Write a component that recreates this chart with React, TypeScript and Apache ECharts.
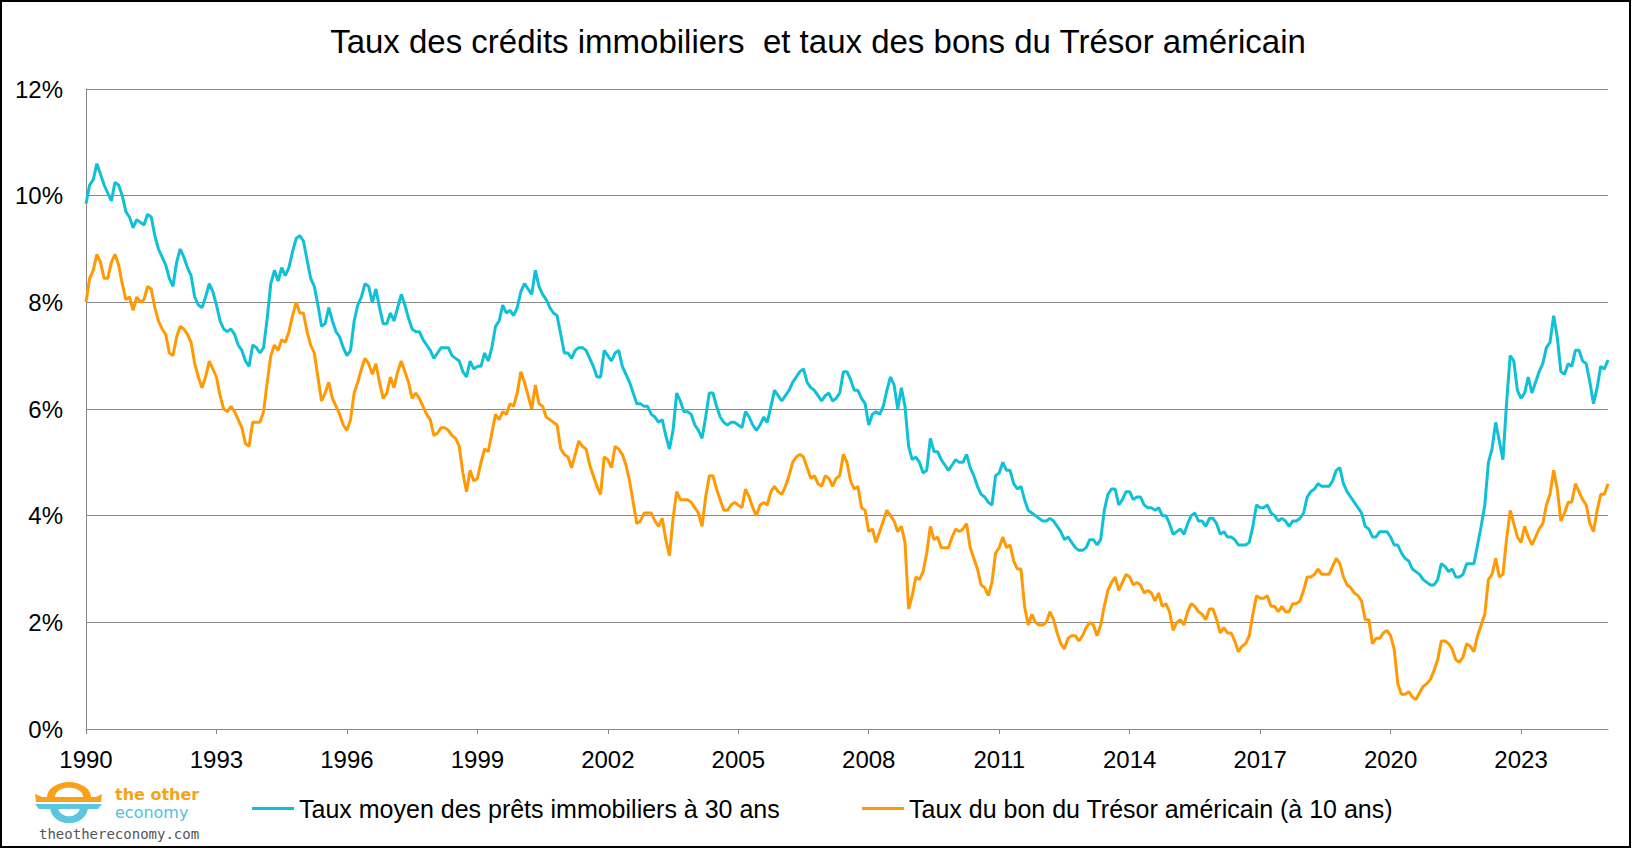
import React, { useEffect, useRef } from "react";
import * as echarts from "echarts";

const startYear = 1990;
const xTickYears = [1990, 1993, 1996, 1999, 2002, 2005, 2008, 2011, 2014, 2017, 2020, 2023];
const yTickValues = [0, 2, 4, 6, 8, 10, 12];

const mortgageName = "Taux moyen des prêts immobiliers à 30 ans";
const treasuryName = "Taux du bon du Trésor américain (à 10 ans)";
const chartTitle = "Taux des crédits immobiliers\u00a0 et taux des bons du Trésor américain";

// Monthly values, Jan 1990 -> Jan 2025 (%)
const mortgageRates = [
  9.85, 10.2, 10.3, 10.6, 10.4, 10.2, 10.05, 9.9, 10.25, 10.2, 10.0, 9.7,
  9.6, 9.4, 9.55, 9.5, 9.45, 9.65, 9.6, 9.25, 9.0, 8.85, 8.7, 8.45,
  8.3, 8.75, 9.0, 8.85, 8.65, 8.5, 8.1, 7.95, 7.9, 8.1, 8.35, 8.2,
  7.95, 7.65, 7.5, 7.45, 7.5, 7.4, 7.2, 7.1, 6.9, 6.8, 7.2, 7.15,
  7.05, 7.15, 7.7, 8.35, 8.6, 8.4, 8.65, 8.5, 8.65, 8.95, 9.2, 9.25,
  9.15, 8.8, 8.45, 8.3, 7.95, 7.55, 7.6, 7.9, 7.65, 7.45, 7.35, 7.15,
  7.0, 7.1, 7.65, 7.95, 8.1, 8.35, 8.3, 8.0, 8.25, 7.9, 7.6, 7.6,
  7.8, 7.65, 7.9, 8.15, 7.95, 7.7, 7.5, 7.45, 7.45, 7.3, 7.2, 7.1,
  6.95, 7.05, 7.15, 7.15, 7.15, 7.0, 6.95, 6.9, 6.7, 6.6, 6.9, 6.75,
  6.8, 6.8, 7.05, 6.9, 7.15, 7.55, 7.65, 7.95, 7.8, 7.85, 7.75, 7.9,
  8.2, 8.35, 8.25, 8.15, 8.6, 8.3, 8.15, 8.05, 7.9, 7.8, 7.75, 7.4,
  7.05, 7.05, 6.95, 7.1, 7.15, 7.15, 7.1, 6.95, 6.8, 6.6, 6.6, 7.1,
  7.0, 6.9, 7.05, 7.1, 6.8, 6.65, 6.5, 6.3, 6.1, 6.1, 6.05, 6.05,
  5.9, 5.85, 5.75, 5.8, 5.5, 5.25, 5.6, 6.3, 6.15, 5.95, 5.95, 5.9,
  5.7, 5.6, 5.45, 5.85, 6.3, 6.3, 6.05, 5.85, 5.75, 5.7, 5.75, 5.75,
  5.7, 5.65, 5.95, 5.85, 5.7, 5.6, 5.7, 5.85, 5.75, 6.05, 6.35, 6.25,
  6.15, 6.25, 6.35, 6.5, 6.6, 6.7, 6.75, 6.5, 6.4, 6.35, 6.25, 6.15,
  6.25, 6.3, 6.15, 6.2, 6.3, 6.7, 6.7, 6.55, 6.35, 6.35, 6.2, 6.1,
  5.7, 5.9, 5.95, 5.9, 6.05, 6.35, 6.6, 6.45, 6.0, 6.4, 6.05, 5.3,
  5.05, 5.1, 5.0, 4.8, 4.85, 5.45, 5.2, 5.2, 5.05, 4.95, 4.85, 4.95,
  5.05, 5.0, 5.0, 5.15, 4.9, 4.75, 4.55, 4.4, 4.35, 4.25, 4.2, 4.75,
  4.8, 5.0, 4.85, 4.85, 4.6, 4.5, 4.55, 4.3, 4.1, 4.05, 4.0, 3.95,
  3.9, 3.9, 3.95, 3.9, 3.8, 3.7, 3.55, 3.6, 3.5, 3.4, 3.35, 3.35,
  3.4, 3.55, 3.55, 3.45, 3.55, 4.1, 4.4, 4.5, 4.5, 4.2, 4.3, 4.45,
  4.45, 4.3, 4.35, 4.35, 4.2, 4.15, 4.15, 4.1, 4.15, 4.0, 4.0, 3.85,
  3.65, 3.7, 3.75, 3.65, 3.85, 4.0, 4.05, 3.9, 3.9, 3.8, 3.95, 3.95,
  3.85, 3.65, 3.7, 3.6, 3.6, 3.55, 3.45, 3.45, 3.45, 3.5, 3.8, 4.2,
  4.15, 4.15, 4.2, 4.05, 4.0, 3.9, 3.95, 3.9, 3.8, 3.9, 3.9, 3.95,
  4.05, 4.35, 4.45, 4.5, 4.6, 4.55, 4.55, 4.55, 4.65, 4.85, 4.9, 4.6,
  4.45, 4.35, 4.25, 4.15, 4.05, 3.8, 3.75, 3.6, 3.6, 3.7, 3.7, 3.7,
  3.6, 3.45, 3.45, 3.3, 3.2, 3.15, 3.0, 2.95, 2.9, 2.8, 2.75, 2.7,
  2.7, 2.8, 3.1, 3.05, 2.95, 3.0, 2.85, 2.85, 2.9, 3.1, 3.1, 3.1,
  3.45, 3.8, 4.2, 5.0, 5.25, 5.75, 5.4, 5.05, 6.1, 7.0, 6.9, 6.35,
  6.2, 6.3, 6.6, 6.3, 6.5, 6.7, 6.85, 7.15, 7.25, 7.75, 7.35, 6.7,
  6.65, 6.85, 6.8, 7.1, 7.1, 6.9, 6.85, 6.5, 6.1, 6.4, 6.8, 6.75,
  6.92,
];

const treasuryRates = [
  8.0, 8.45, 8.6, 8.9, 8.75, 8.45, 8.45, 8.75, 8.9, 8.7, 8.35, 8.05,
  8.1, 7.85, 8.1, 8.0, 8.05, 8.3, 8.25, 7.9, 7.65, 7.5, 7.4, 7.05,
  7.0, 7.35, 7.55, 7.5, 7.4, 7.25, 6.85, 6.6, 6.4, 6.6, 6.9, 6.75,
  6.6, 6.25, 6.0, 5.95, 6.05, 5.95, 5.8, 5.65, 5.35, 5.3, 5.75, 5.75,
  5.75, 5.95, 6.5, 7.0, 7.2, 7.1, 7.3, 7.25, 7.45, 7.75, 8.0, 7.8,
  7.8, 7.45, 7.2, 7.05, 6.6, 6.15, 6.3, 6.5, 6.2, 6.05, 5.9, 5.7,
  5.6, 5.8, 6.3, 6.5, 6.75, 6.95, 6.85, 6.65, 6.85, 6.5, 6.2, 6.3,
  6.6, 6.4, 6.7, 6.9, 6.7, 6.5, 6.2, 6.3, 6.2, 6.05, 5.9, 5.8,
  5.5, 5.55, 5.65, 5.65, 5.6, 5.5, 5.45, 5.3, 4.8, 4.45, 4.85, 4.65,
  4.7, 5.0, 5.25, 5.2, 5.55, 5.9, 5.8, 5.95, 5.9, 6.1, 6.05, 6.3,
  6.7, 6.5, 6.25, 6.0, 6.45, 6.1, 6.05, 5.85, 5.8, 5.75, 5.7, 5.25,
  5.15, 5.1, 4.9, 5.15, 5.4, 5.3, 5.25, 4.95, 4.75, 4.55, 4.4, 5.1,
  5.05, 4.9, 5.3, 5.25, 5.15, 4.95, 4.65, 4.25, 3.85, 3.9, 4.05, 4.05,
  4.05, 3.9, 3.8, 3.95, 3.55, 3.25, 3.95, 4.45, 4.3, 4.3, 4.3, 4.25,
  4.15, 4.05, 3.8, 4.35, 4.75, 4.75, 4.5, 4.3, 4.1, 4.1, 4.2, 4.25,
  4.2, 4.15, 4.5, 4.35, 4.15, 4.0, 4.2, 4.25, 4.2, 4.45, 4.55, 4.45,
  4.4, 4.55, 4.75, 5.0, 5.1, 5.15, 5.1, 4.9, 4.7, 4.75, 4.6, 4.55,
  4.75, 4.7, 4.55, 4.7, 4.75, 5.15, 5.0, 4.65, 4.5, 4.55, 4.15, 4.1,
  3.7, 3.75, 3.5, 3.7, 3.9, 4.1, 4.0, 3.9, 3.7, 3.8, 3.5, 2.25,
  2.5, 2.85, 2.8, 2.95, 3.3, 3.8, 3.55, 3.6, 3.4, 3.4, 3.4, 3.6,
  3.75, 3.7, 3.75, 3.85, 3.4, 3.2, 3.0, 2.7, 2.65, 2.5, 2.75, 3.3,
  3.4, 3.6, 3.4, 3.45, 3.15, 3.0, 3.0, 2.3, 1.95, 2.15, 2.0, 1.95,
  1.95, 2.0, 2.2, 2.05, 1.8, 1.6, 1.5, 1.7, 1.75, 1.75, 1.65, 1.75,
  1.9, 2.0, 1.95, 1.75, 1.95, 2.3, 2.6, 2.75, 2.85, 2.6, 2.75, 2.9,
  2.85, 2.7, 2.75, 2.7, 2.55, 2.6, 2.55, 2.4, 2.55, 2.3, 2.35, 2.2,
  1.85, 2.0, 2.05, 1.95, 2.2, 2.35, 2.3, 2.2, 2.15, 2.05, 2.25, 2.25,
  2.05, 1.8, 1.9, 1.8, 1.8, 1.65, 1.45, 1.55, 1.6, 1.75, 2.15, 2.5,
  2.45, 2.45, 2.5, 2.3, 2.3, 2.2, 2.3, 2.2, 2.2, 2.35, 2.35, 2.4,
  2.6, 2.85, 2.85, 2.9, 3.0, 2.9, 2.9, 2.9, 3.05, 3.2, 3.1, 2.85,
  2.7, 2.65, 2.55, 2.5, 2.4, 2.05, 2.05, 1.6, 1.7, 1.7, 1.8, 1.85,
  1.75, 1.5, 0.85, 0.65, 0.65, 0.7, 0.6, 0.55, 0.68, 0.8, 0.85, 0.93,
  1.1, 1.3, 1.65, 1.65, 1.6, 1.5, 1.3, 1.25, 1.35, 1.6, 1.55, 1.45,
  1.75, 1.95, 2.15, 2.8, 2.9, 3.2, 2.85, 2.9, 3.55, 4.1, 3.85, 3.6,
  3.5, 3.8, 3.6, 3.45, 3.6, 3.75, 3.85, 4.2, 4.4, 4.85, 4.5, 3.9,
  4.05, 4.25, 4.25, 4.6, 4.45, 4.3, 4.2, 3.85, 3.7, 4.1, 4.4, 4.4,
  4.6,
];

const FONT = "'Liberation Sans', Arial, Helvetica, sans-serif";
const LOGO_FONT = "'DejaVu Sans', 'Noto Sans', sans-serif";
const CYAN = "#0fc0d6";
const ORANGE = "#ff9a05";
const GRID = "#888888";

export default function App() {
  const ref = useRef<HTMLDivElement>(null);

  useEffect(() => {
    if (!ref.current) return;
    const chart = echarts.init(ref.current, undefined, { renderer: "svg" });
    const toPairs = (arr: number[]) => arr.map((v, i) => [startYear + i / 12, v]);

    chart.setOption({
      animation: false,
      backgroundColor: "#ffffff",
      grid: { left: 86, right: 28, top: 89, bottom: 120, containLabel: false },
      xAxis: {
        type: "value",
        min: 1990,
        max: 2025,
        interval: 3,
        axisLine: { show: true, lineStyle: { color: GRID, width: 1 } },
        axisTick: { show: true, length: 5, lineStyle: { color: GRID }, customValues: xTickYears },
        axisLabel: {
          customValues: xTickYears,
          fontSize: 24,
          fontFamily: FONT,
          color: "#000",
          margin: 18,
          formatter: (v: number) => String(Math.round(v)),
        },
        splitLine: { show: false },
      },
      yAxis: {
        type: "value",
        min: 0,
        max: 12,
        interval: 2,
        axisLine: { show: true, lineStyle: { color: GRID, width: 1 } },
        axisTick: { show: false },
        axisLabel: {
          customValues: yTickValues,
          fontSize: 24,
          fontFamily: FONT,
          color: "#000",
          margin: 23,
          formatter: "{value}%",
        },
        splitLine: { show: true, lineStyle: { color: GRID, width: 1 } },
      },
      legend: [
        {
          data: [mortgageName],
          left: 252,
          top: 796,
          padding: 0,
          icon: "rect",
          itemWidth: 42,
          itemHeight: 3,
          textStyle: { fontSize: 25, fontFamily: FONT, color: "#000" },
        },
        {
          data: [treasuryName],
          left: 862,
          top: 796,
          padding: 0,
          icon: "rect",
          itemWidth: 42,
          itemHeight: 3,
          textStyle: { fontSize: 25, fontFamily: FONT, color: "#000" },
        },
      ],
      series: [
        {
          name: mortgageName,
          type: "line",
          data: toPairs(mortgageRates),
          showSymbol: false,
          symbol: "none",
          color: CYAN,
          lineStyle: { color: CYAN, width: 3 },
        },
        {
          name: treasuryName,
          type: "line",
          data: toPairs(treasuryRates),
          showSymbol: false,
          symbol: "none",
          color: ORANGE,
          lineStyle: { color: ORANGE, width: 3 },
        },
      ],
      graphic: [
        {
          type: "rect",
          shape: { x: 1, y: 1, width: 1629, height: 846 },
          style: { fill: "none", stroke: "#000", lineWidth: 2 },
          silent: true,
        },
        {
          type: "text",
          x: 818,
          y: 41,
          style: {
            text: chartTitle,
            fontSize: 33,
            fontFamily: FONT,
            fill: "#000",
            align: "center",
            verticalAlign: "middle",
          },
        },
        // logo
        {
          type: "sector",
          x: 69,
          y: 797,
          scaleY: 0.68,
          shape: { cx: 0, cy: 0, r: 22, r0: 14, startAngle: Math.PI, endAngle: 2 * Math.PI },
          style: { fill: "#f9a11b" },
        },
        {
          type: "polygon",
          shape: { points: [[35, 794], [42, 797], [96, 797], [102, 794], [101, 802], [36, 802]] },
          style: { fill: "#f9a11b" },
        },
        {
          type: "polygon",
          shape: { points: [[35, 804], [102, 804], [98, 809], [39, 809]] },
          style: { fill: "#5bc6dd" },
        },
        {
          type: "sector",
          x: 69,
          y: 807,
          scaleY: 0.85,
          shape: { cx: 0, cy: 0, r: 19, r0: 11, startAngle: 0, endAngle: Math.PI },
          style: { fill: "#5bc6dd" },
        },
        {
          type: "text",
          x: 115,
          y: 794,
          style: { text: "the other", fontSize: 16, lineHeight: 16, fontWeight: "bold", fontFamily: LOGO_FONT, fill: "#f7a21b", verticalAlign: "middle" },
        },
        {
          type: "text",
          x: 115,
          y: 812,
          style: { text: "economy", fontSize: 16, lineHeight: 16, fontFamily: LOGO_FONT, fill: "#4fc2dc", verticalAlign: "middle" },
        },
        {
          type: "text",
          x: 39,
          y: 834,
          style: { text: "theothereconomy.com", fontSize: 14, lineHeight: 12, fontFamily: "'DejaVu Sans Mono', monospace", fill: "#555555", verticalAlign: "middle" },
        },
      ],
    });

    return () => chart.dispose();
  }, []);

  return (
    <div
      ref={ref}
      style={{ position: "fixed", left: 0, top: 0, width: 1636, height: 849, background: "#fff" }}
    />
  );
}
